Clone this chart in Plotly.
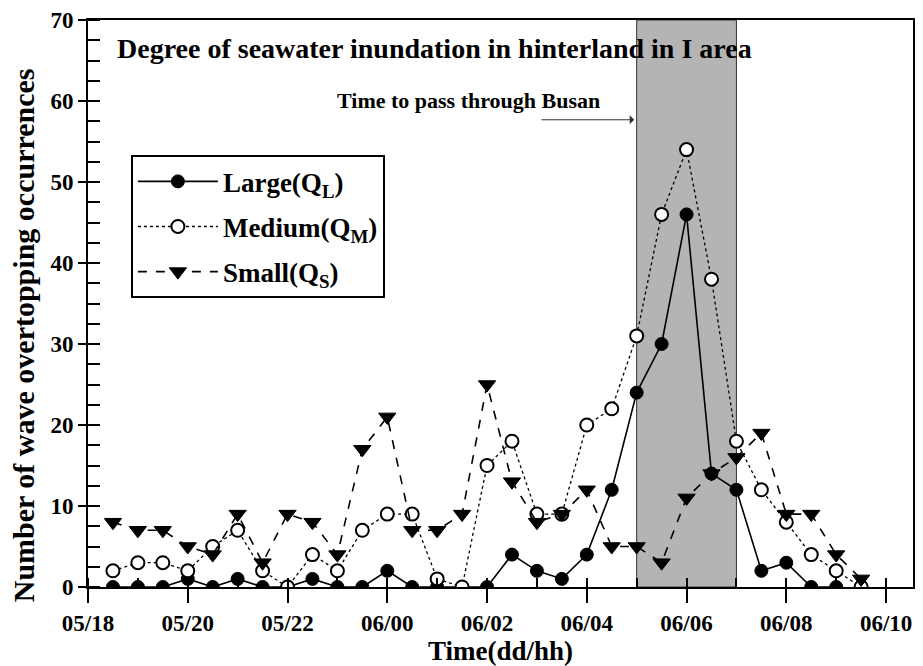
import plotly.graph_objects as go

# Time in hours counted from day 05 00h (05/18 -> 18, 06/00 -> 24, 06/10 -> 34)
hours = [18.5, 19, 19.5, 20, 20.5, 21, 21.5, 22, 22.5, 23, 23.5, 24, 24.5, 25, 25.5,
         26, 26.5, 27, 27.5, 28, 28.5, 29, 29.5, 30, 30.5, 31, 31.5, 32, 32.5, 33, 33.5]

large = [0, 0, 0, 1, 0, 1, 0, 0, 1, 0, 0, 2, 0, 0, 0,
         0, 4, 2, 1, 4, 12, 24, 30, 46, 14, 12, 2, 3, 0, 0]
medium = [2, 3, 3, 2, 5, 7, 2, 0, 4, 2, 7, 9, 9, 1, 0,
          15, 18, 9, 9, 20, 22, 31, 46, 54, 38, 18, 12, 8, 4, 2, 0]
small = [8, 7, 7, 5, 4, 9, 3, 9, 8, 4, 17, 21, 7, 7, 9,
         25, 13, 8, 9, 12, 5, 5, 3, 11, 14, 16, 19, 9, 9, 4, 1]

tick_vals = [18, 20, 22, 24, 26, 28, 30, 32, 34]
tick_text = ["05/18", "05/20", "05/22", "06/00", "06/02", "06/04", "06/06", "06/08", "06/10"]

busan_start, busan_end = 29, 31

FONT = "Liberation Serif"

fig = go.Figure()

fig.add_trace(go.Scatter(
    x=hours[:len(large)], y=large, mode="lines+markers", name="Large(Q<sub>L</sub>)",
    legendgroup="L",
    line=dict(color="black", width=1.6),
    marker=dict(symbol="circle", size=13, color="black", line=dict(color="black", width=1)),
))
fig.add_trace(go.Scatter(
    x=hours, y=medium, mode="lines+markers", name="Medium(Q<sub>M</sub>)",
    legendgroup="M",
    line=dict(color="black", width=1.3, dash="dot"),
    marker=dict(symbol="circle", size=13, color="white", line=dict(color="black", width=2)),
))
fig.add_trace(go.Scatter(
    x=hours, y=small, mode="lines+markers", name="Small(Q<sub>S</sub>)",
    legendgroup="S",
    line=dict(color="black", width=1.6, dash="dash"),
    marker=dict(symbol="triangle-down", size=15, color="black", line=dict(color="black", width=1)),
))

fig.add_shape(type="rect", xref="x", yref="y", x0=busan_start, x1=busan_end, y0=0, y1=70,
              fillcolor="#b4b4b4", line=dict(color="#333333", width=1), layer="below")

fig.add_annotation(text="<b>Degree of seawater inundation in hinterland in I area</b>",
                   xref="paper", yref="paper", x=(115 - 88) / 827, y=(588 - 43) / 574,
                   xanchor="left", yanchor="middle", showarrow=False,
                   font=dict(family=FONT, size=28, color="black"))

fig.add_annotation(text="<b>Time to pass through Busan</b>",
                   xref="paper", yref="paper", x=(469 - 88) / 827, y=(588 - 95) / 574,
                   xanchor="center", yanchor="middle", showarrow=False,
                   font=dict(family=FONT, size=22, color="black"))

fig.add_annotation(x=busan_start - 0.05, y=(588 - 115) / 8.2, ax=27.06, ay=(588 - 115) / 8.2,
                   xref="x", yref="y", axref="x", ayref="y", text="", showarrow=True,
                   arrowhead=1, arrowsize=1.5, arrowwidth=1, arrowcolor="#333333")

fig.add_annotation(text="<b>Number of wave overtopping occurrences</b>", textangle=-90,
                   xref="paper", yref="paper", x=(23 - 88) / 827, y=(588 - 333) / 574,
                   xanchor="center", yanchor="middle", showarrow=False,
                   font=dict(family=FONT, size=30, color="black"))

fig.update_layout(
    width=923, height=666,
    margin=dict(l=88, r=8, t=14, b=78),
    plot_bgcolor="white", paper_bgcolor="white",
    font=dict(family=FONT, color="black"),
    showlegend=True,
    legend=dict(x=(131 - 88) / 827, y=(588 - 151) / 574, xanchor="left", yanchor="top",
                bordercolor="black", borderwidth=2, bgcolor="white",
                font=dict(family=FONT, size=27, color="black", weight="bold"),
                itemwidth=80, tracegroupgap=7),
    xaxis=dict(
        range=[18, 34.54], tickmode="array", tickvals=tick_vals, ticktext=tick_text,
        ticks="outside", ticklen=14, tickwidth=2, tickcolor="black",
        showline=True, linewidth=2, linecolor="black", mirror=True,
        showgrid=False, zeroline=False,
        tickfont=dict(family=FONT, size=23, color="black", weight="bold"),
        minor=dict(tickmode="linear", tick0=18, dtick=1, ticks="inside", ticklen=9,
                   tickwidth=2, tickcolor="black", showgrid=False),
        title=dict(text="<b>Time(dd/hh)</b>", font=dict(family=FONT, size=27, color="black"),
                   standoff=4),
    ),
    yaxis=dict(
        range=[0, 70], tickmode="linear", tick0=0, dtick=10,
        ticks="outside", ticklen=8, tickwidth=2, tickcolor="black",
        showline=True, linewidth=2, linecolor="black", mirror=True,
        showgrid=False, zeroline=False,
        tickfont=dict(family=FONT, size=23, color="black", weight="bold"),
        minor=dict(dtick=2.5, ticks="inside", ticklen=12, tickwidth=2, tickcolor="black",
                   showgrid=False),
    ),
)

fig.write_html("out.html")
